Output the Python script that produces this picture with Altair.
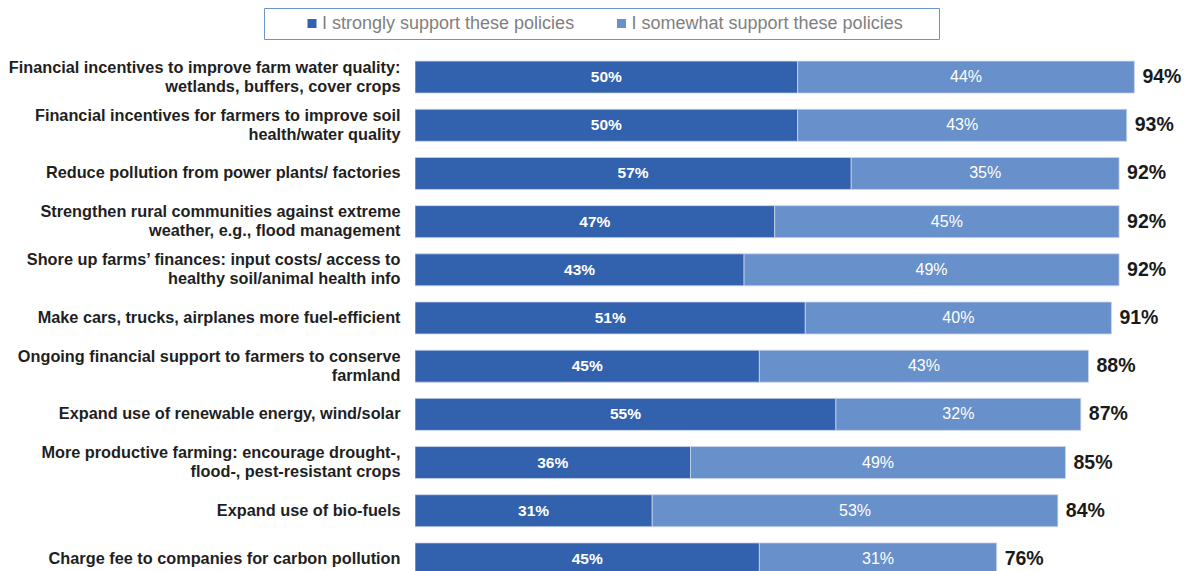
import altair as alt
import pandas as pd

categories = [
    "Financial incentives to improve farm water quality:|wetlands, buffers, cover crops",
    "Financial incentives for farmers to improve soil|health/water quality",
    "Reduce pollution from power plants/ factories",
    "Strengthen rural communities against extreme|weather, e.g., flood management",
    "Shore up farms\u2019 finances: input costs/ access to|healthy soil/animal health info",
    "Make cars, trucks, airplanes more fuel-efficient",
    "Ongoing financial support to farmers to conserve|farmland",
    "Expand use of renewable energy, wind/solar",
    "More productive farming: encourage drought-,|flood-, pest-resistant crops",
    "Expand use of bio-fuels",
    "Charge fee to companies for carbon pollution",
]
strongly = [50, 50, 57, 47, 43, 51, 45, 55, 36, 31, 45]
somewhat = [44, 43, 35, 45, 49, 40, 43, 32, 49, 53, 31]
totals = [94, 93, 92, 92, 92, 91, 88, 87, 85, 84, 76]
series = ["I strongly support these policies", "I somewhat support these policies"]
colors = ["#3262ad", "#6890ca"]

rows = []
for c, s, w, t in zip(categories, strongly, somewhat, totals):
    rows.append({"cat": c, "type": series[0], "order": 0, "value": s})
    rows.append({"cat": c, "type": series[1], "order": 1, "value": w})
df = pd.DataFrame(rows)
wide = pd.DataFrame({"cat": categories, "strong": strongly, "some": somewhat, "total": totals})

FONT = "Liberation Sans"

yenc = alt.Y(
    "cat:N",
    sort=categories,
    scale=alt.Scale(range=[0, 530], paddingInner=0.336, paddingOuter=0.168),
    axis=alt.Axis(
        title=None, ticks=False, domain=False, labelPadding=15, labelFont=FONT,
        labelFontSize=16.3, labelFontWeight="bold", labelColor="#1f1f1f",
        labelLimit=500, labelLineHeight=19, labelExpr="split(datum.label, '|')",
        labelOffset=alt.condition("indexof(datum.label, '|') >= 0", alt.value(-9.5), alt.value(0)),
    ),
)
xscale = alt.Scale(domain=[0, 98], nice=False, zero=True)

bars = alt.Chart(df).mark_bar(clip=True, stroke="#c9d6ec", strokeWidth=0.8).encode(
    y=yenc,
    x=alt.X("value:Q", stack="zero", scale=xscale, axis=None),
    color=alt.Color(
        "type:N",
        scale=alt.Scale(domain=series, range=colors),
        legend=alt.Legend(
            title="\u00a0", titleOrient="right", titlePadding=30, titleFontSize=2,
            orient="none", legendX=-151, legendY=-45, direction="horizontal",
            strokeColor="#6d93cc", padding=6.5, symbolType="square",
            symbolSize=81, symbolStrokeWidth=0, symbolOffset=32.5, labelOffset=1,
            columnPadding=5.5, labelFont=FONT, labelFontSize=18, labelColor="#808080",
            labelLimit=400,
        ),
    ),
    order=alt.Order("order:Q"),
)

base = alt.Chart(wide)
strong_txt = base.transform_calculate(mid="datum.strong / 2", lab="datum.strong + '%'").mark_text(
    font=FONT, fontSize=15.5, fontWeight="bold", color="white", clip=True
).encode(y=alt.Y("cat:N", sort=categories), x=alt.X("mid:Q", scale=xscale), text="lab:N")

some_txt = base.transform_calculate(mid="datum.strong + datum.some / 2", lab="datum.some + '%'").mark_text(
    font=FONT, fontSize=16, color="white", clip=True
).encode(y=alt.Y("cat:N", sort=categories), x=alt.X("mid:Q", scale=xscale), text="lab:N")

tot_txt = base.transform_calculate(lab="datum.total + '%'").mark_text(
    font=FONT, fontSize=19.5, fontWeight="bold", color="#1a1a1a", align="left", dx=8
).encode(y=alt.Y("cat:N", sort=categories), x=alt.X("total:Q", scale=xscale), text="lab:N")

chart = alt.layer(bars, strong_txt, some_txt, tot_txt).properties(
    width=750, height=518,
    padding={"left": 407, "top": 45, "right": 17, "bottom": 0},
    autosize=alt.AutoSizeParams(type="none"),
    background="white",
).configure_view(stroke=None)

chart.save("out.html", embed_options={"renderer": "svg", "actions": False})
